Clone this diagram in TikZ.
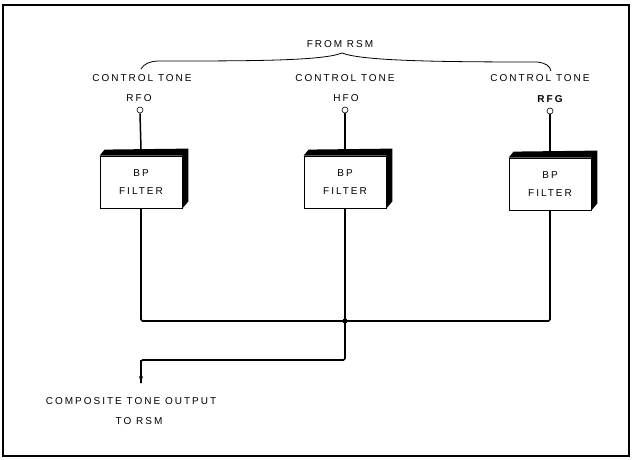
\documentclass[tikz,border=0pt]{standalone}
\usepackage{fontspec}
\setmainfont{Liberation Sans}[LetterSpace=20]
\usetikzlibrary{arrows.meta,backgrounds}
\begin{document}
\begin{tikzpicture}[x=1pt,y=-1pt,
  lbl/.style={inner sep=0pt,font=\fontsize{10}{12}\selectfont},
  filterbox/.style={draw,line width=0.8pt,fill=white,minimum width=82pt,minimum height=52pt,inner sep=0pt,align=center,font=\fontsize{10}{18}\selectfont},
  term/.style={circle,draw,line width=0.6pt,fill=white,minimum size=6pt,inner sep=0pt},
  wire/.style={line width=1.6pt,rounded corners=1.5pt},
  dot/.style={circle,fill,minimum size=5pt,inner sep=0pt}]
\useasboundingbox (0,0) rectangle (632,460);
\draw[line width=2.4pt] (3,5) rectangle (629,456);
% top labels
\node[lbl] (from) at (340,44) {FROM RSM};
\node[lbl] (ct1) at (142,78) {CONTROL TONE};
\node[lbl] (ct2) at (345,78) {CONTROL TONE};
\node[lbl] (ct3) at (540,78) {CONTROL TONE};
\node[lbl] (n1) at (139,98) {RFO};
\node[lbl] (n2) at (346,98) {HFO};
\node[lbl,font=\fontsize{10}{12}\selectfont\bfseries] (n3) at (550,99) {RFG};
% brace
\coordinate (bl) at (141,69);
\coordinate (bt) at (342,53);
\coordinate (br) at (551,71);
\draw[line width=0.8pt] (bl) .. controls (144,64) and (149,61.5) .. (158,61)
  .. controls (250,61) and (322,61) .. (bt)
  .. controls (362,61) and (440,62) .. (537,62)
  .. controls (546,63) and (550,66) .. (br);
% boxes
\node[filterbox] (b1) at (141,182) {BP\\FILTER};
\node[filterbox] (b2) at (345,182) {BP\\FILTER};
\node[filterbox] (b3) at (550,184) {BP\\FILTER};
\foreach \b in {b1,b2,b3}{
  \fill (\b.north west) -- ([shift={(5pt,6pt)}]\b.north west) -- ([shift={(6pt,7pt)}]\b.north east)
     -- ([shift={(6pt,7pt)}]\b.south east) -- (\b.south east) -- (\b.north east) -- cycle;
}
% terminals
\node[term] (c1) at (140,110) {};
\node[term] (c2) at (345,110) {};
\node[term] (c3) at (550,111) {};
% wiring
\node[dot] (j) at (345,321) {};
\coordinate (bend) at (141,360);
\coordinate (tip) at (141,383);
\begin{scope}[on background layer]
\draw[line width=1.5pt] (c1.south) -- ([yshift=6pt]b1.north);
\draw[line width=1.5pt] (c2.south) -- ([yshift=6pt]b2.north);
\draw[line width=1.5pt] (c3.south) -- ([yshift=6pt]b3.north);
\draw[wire] (b1.south) |- (j.center) -| (b3.south);
\draw[wire] (b2.south) -- (j.center);
\draw[wire] (j.center) |- (bend) -- (tip);
\end{scope}
\draw[-{Stealth[length=7pt,width=4pt]},line width=1.5pt] (bend) -- (tip);
% output labels
\node[lbl] (out1) at (131,401) {COMPOSITE TONE OUTPUT};
\node[lbl] (out2) at (139,421) {TO RSM};
\end{tikzpicture}
\end{document}
